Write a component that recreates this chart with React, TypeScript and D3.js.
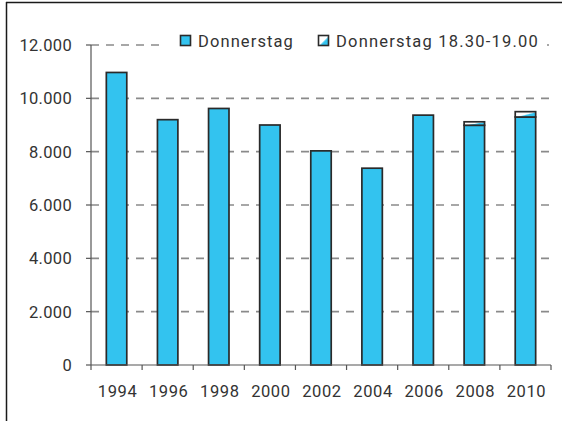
import React from 'react';
import * as d3 from 'd3';

const years = ['1994', '1996', '1998', '2000', '2002', '2004', '2006', '2008', '2010'];
const donnerstag = [10970, 9200, 9620, 9000, 8030, 7380, 9370, 8990, 9300];
const abend = [0, 0, 0, 0, 0, 0, 0, 130, 200];
const seriesNames = ['Donnerstag', 'Donnerstag 18.30-19.00'];
const yTicks = [0, 2000, 4000, 6000, 8000, 10000, 12000];

const W = 562, H = 421;
const CYAN = '#33c3ef';
const DARK = '#2a2a2a';
const FONT = 'Roboto, sans-serif';

export default function App() {
  const x = d3.scaleBand<string>().domain(years).range([91, 551]).padding(0);
  const y = d3.scaleLinear().domain([0, 12000]).range([365, 45]);
  const barW = x.bandwidth() * 0.4;
  const rows = years.map((yr, i) => ({ year: yr, a: donnerstag[i], b: abend[i] }));
  const stack = d3.stack<any>().keys(['a', 'b'])(rows);
  const loc = d3.formatLocale({ decimal: ',', thousands: '.', grouping: [3], currency: ['', '€'] });
  const fmt = loc.format(',d');
  const fills = [CYAN, 'url(#mix)'];

  return (
    <svg width={W} height={H} style={{ position: 'absolute', left: 0, top: 0, background: '#fff' }}
      fontFamily={FONT}>
      <defs>
        <linearGradient id="mix" x1="0" y1="0" x2="1" y2="1">
          <stop offset="0" stopColor="#fff" />
          <stop offset="0.5" stopColor="#fff" />
          <stop offset="0.62" stopColor={CYAN} />
          <stop offset="1" stopColor={CYAN} />
        </linearGradient>
      </defs>
      <rect x={0} y={0} width={W} height={H} fill="#fff" />
      {/* frame */}
      <line x1={6} x2={W} y1={2.5} y2={2.5} stroke="#1a1a1a" strokeWidth={1.5} />
      <line x1={6.5} x2={6.5} y1={2} y2={H} stroke="#1a1a1a" strokeWidth={1.5} />

      {/* gridlines */}
      {yTicks.filter(t => t > 0).map(t => (
        <line key={t} x1={91} x2={553} y1={y(t)} y2={y(t)} stroke="#8a8a8a"
          strokeWidth={1.6} strokeDasharray="8,7" />
      ))}

      {/* bars */}
      {stack.map((s, si) => (
        <g key={si}>
          {s.map((d, i) => (d[1] - d[0] > 0 ? (
            <rect key={i} x={(x(years[i]) as number) + (x.bandwidth() - barW) / 2} y={y(d[1])}
              width={barW} height={y(d[0]) - y(d[1])} fill={fills[si]} stroke={DARK} strokeWidth={1.7} />
          ) : null))}
        </g>
      ))}

      {/* y axis */}
      <line x1={91} x2={91} y1={y(12000)} y2={y(0)} stroke="#555" strokeWidth={1.2} />
      {yTicks.map(t => (
        <g key={t}>
          <line x1={86} x2={91} y1={y(t)} y2={y(t)} stroke="#555" strokeWidth={1.2} />
          <text x={72} y={y(t) + 6} textAnchor="end" fontSize={16.5} fill="#333" letterSpacing={0.3}>{fmt(t)}</text>
        </g>
      ))}

      {/* x axis */}
      <line x1={91} x2={551} y1={y(0)} y2={y(0)} stroke="#555" strokeWidth={1.2} />
      {years.map((yr, i) => (
        <g key={yr}>
          <line x1={(x(yr) as number) + x.bandwidth()} x2={(x(yr) as number) + x.bandwidth()} y1={y(0)} y2={y(0) + 5}
            stroke="#555" strokeWidth={1.2} />
          <text x={(x(yr) as number) + x.bandwidth() / 2 + 1} y={397} textAnchor="middle" fontSize={16.5}
            fill="#333" letterSpacing={0.6}>{yr}</text>
        </g>
      ))}
      <line x1={91} x2={91} y1={y(0)} y2={y(0) + 5} stroke="#555" strokeWidth={1.2} />

      {/* legend */}
      <rect x={165} y={30} width={382} height={24} fill="#fff" />
      <rect x={180.5} y={35.5} width={10} height={10} fill={CYAN} stroke={DARK} strokeWidth={1.6} />
      <text x={198} y={47} fontSize={16.5} fill="#333" letterSpacing={1.1}>{seriesNames[0]}</text>
      <rect x={318.5} y={35.5} width={10} height={10} fill="url(#mix)" stroke={DARK} strokeWidth={1.6} />
      <text x={336} y={47} fontSize={16.5} fill="#333" letterSpacing={1.2}>{seriesNames[1]}</text>
    </svg>
  );
}
